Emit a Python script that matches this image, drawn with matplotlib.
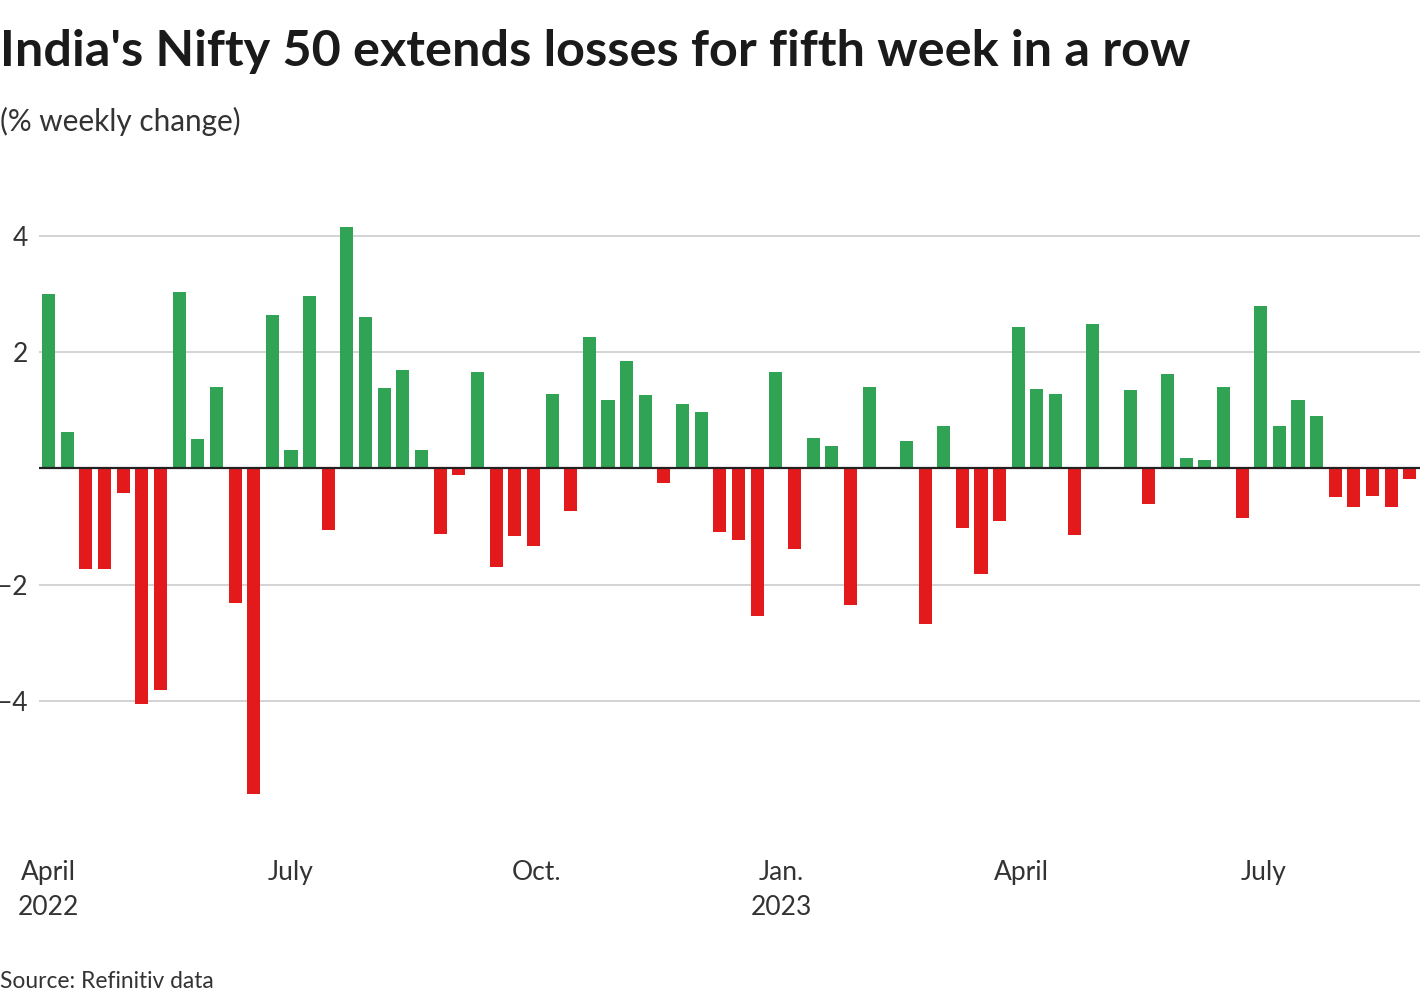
import numpy as np
import pandas as pd
import matplotlib
matplotlib.use("Agg")
import matplotlib.pyplot as plt

plt.rcParams['font.family'] = ['Lato', 'DejaVu Sans']

# weekly % change of Nifty 50, weeks ending on Fridays from 1 April 2022
start_date = "2022-04-01"
weekly_change = [
    3.00, 0.63, -1.74, -1.74, -0.42, -4.05, -3.82, 3.04, 0.51, 1.40,
    -2.31, -5.60, 2.64, 0.32, 2.96, -1.06, 4.16, 2.60, 1.38, 1.70,
    0.32, -1.13, -0.12, 1.66, -1.70, -1.17, -1.34, 1.28, -0.74, 2.26,
    1.18, 1.85, 1.26, -0.25, 1.11, 0.97, -1.09, -1.24, -2.54, 1.66,
    -1.38, 0.53, 0.39, -2.35, 1.40, 0.00, 0.47, -2.68, 0.73, -1.03,
    -1.81, -0.91, 2.43, 1.37, 1.28, -1.15, 2.48, 0.00, 1.35, -0.62,
    1.62, 0.18, 0.15, 1.40, -0.86, 2.79, 0.73, 1.18, 0.90, -0.50,
    -0.67, -0.47, -0.66, -0.19,
]
weeks = pd.date_range(start_date, periods=len(weekly_change), freq="7D")

tick_dates = ["2022-04-01", "2022-07-01", "2022-10-01", "2023-01-01", "2023-04-01", "2023-07-01"]
tick_labels = ["April\n2022", "July", "Oct.", "Jan.\n2023", "April", "July"]
y_ticks = [-4, -2, 2, 4]
y_labels = ["\u22124", "\u22122", "2", "4"]

green = "#31a354"
red = "#e31a1c"

vals = np.array(weekly_change)
colors = [green if v >= 0 else red for v in vals]

fig = plt.figure(figsize=(14.2, 10), dpi=100)
ax = fig.add_axes([39 / 1420, 1 - 817 / 1000, 1 - 39 / 1420, 616 / 1000])

ax.bar(weeks, vals, width=4.9, color=colors, zorder=3)
ax.axhline(0, color="#222222", lw=1.6, zorder=4)

ax.set_ylim(-6.0, 4.6)
ax.set_yticks(y_ticks)
ax.set_yticklabels(y_labels)
ax.grid(axis="y", color="#c8c8c8", lw=1.1, zorder=0)

t0 = pd.Timestamp(start_date)
ax.set_xlim(t0 - pd.Timedelta(days=3.6), t0 + pd.Timedelta(days=514.8))
ax.set_xticks(pd.to_datetime(tick_dates))
ax.set_xticklabels(tick_labels, linespacing=1.5)

for s in ax.spines.values():
    s.set_visible(False)
ax.tick_params(axis="both", length=0, labelsize=19, labelcolor="#333333")
ax.tick_params(axis="x", pad=31)
ax.tick_params(axis="y", pad=8)

fig.text(0.0, 1 - 66 / 1000, "India's Nifty 50 extends losses for fifth week in a row",
         fontsize=36.3, fontweight="bold", color="#1a1a1a", va="baseline", ha="left")
fig.text(0.0, 1 - 131 / 1000, "(% weekly change)",
         fontsize=21.4, color="#333333", va="baseline", ha="left")
fig.text(0.0, 1 - 988 / 1000, "Source: Refinitiv data",
         fontsize=16.4, color="#333333", va="baseline", ha="left")

fig.savefig("out.png", dpi=100)
